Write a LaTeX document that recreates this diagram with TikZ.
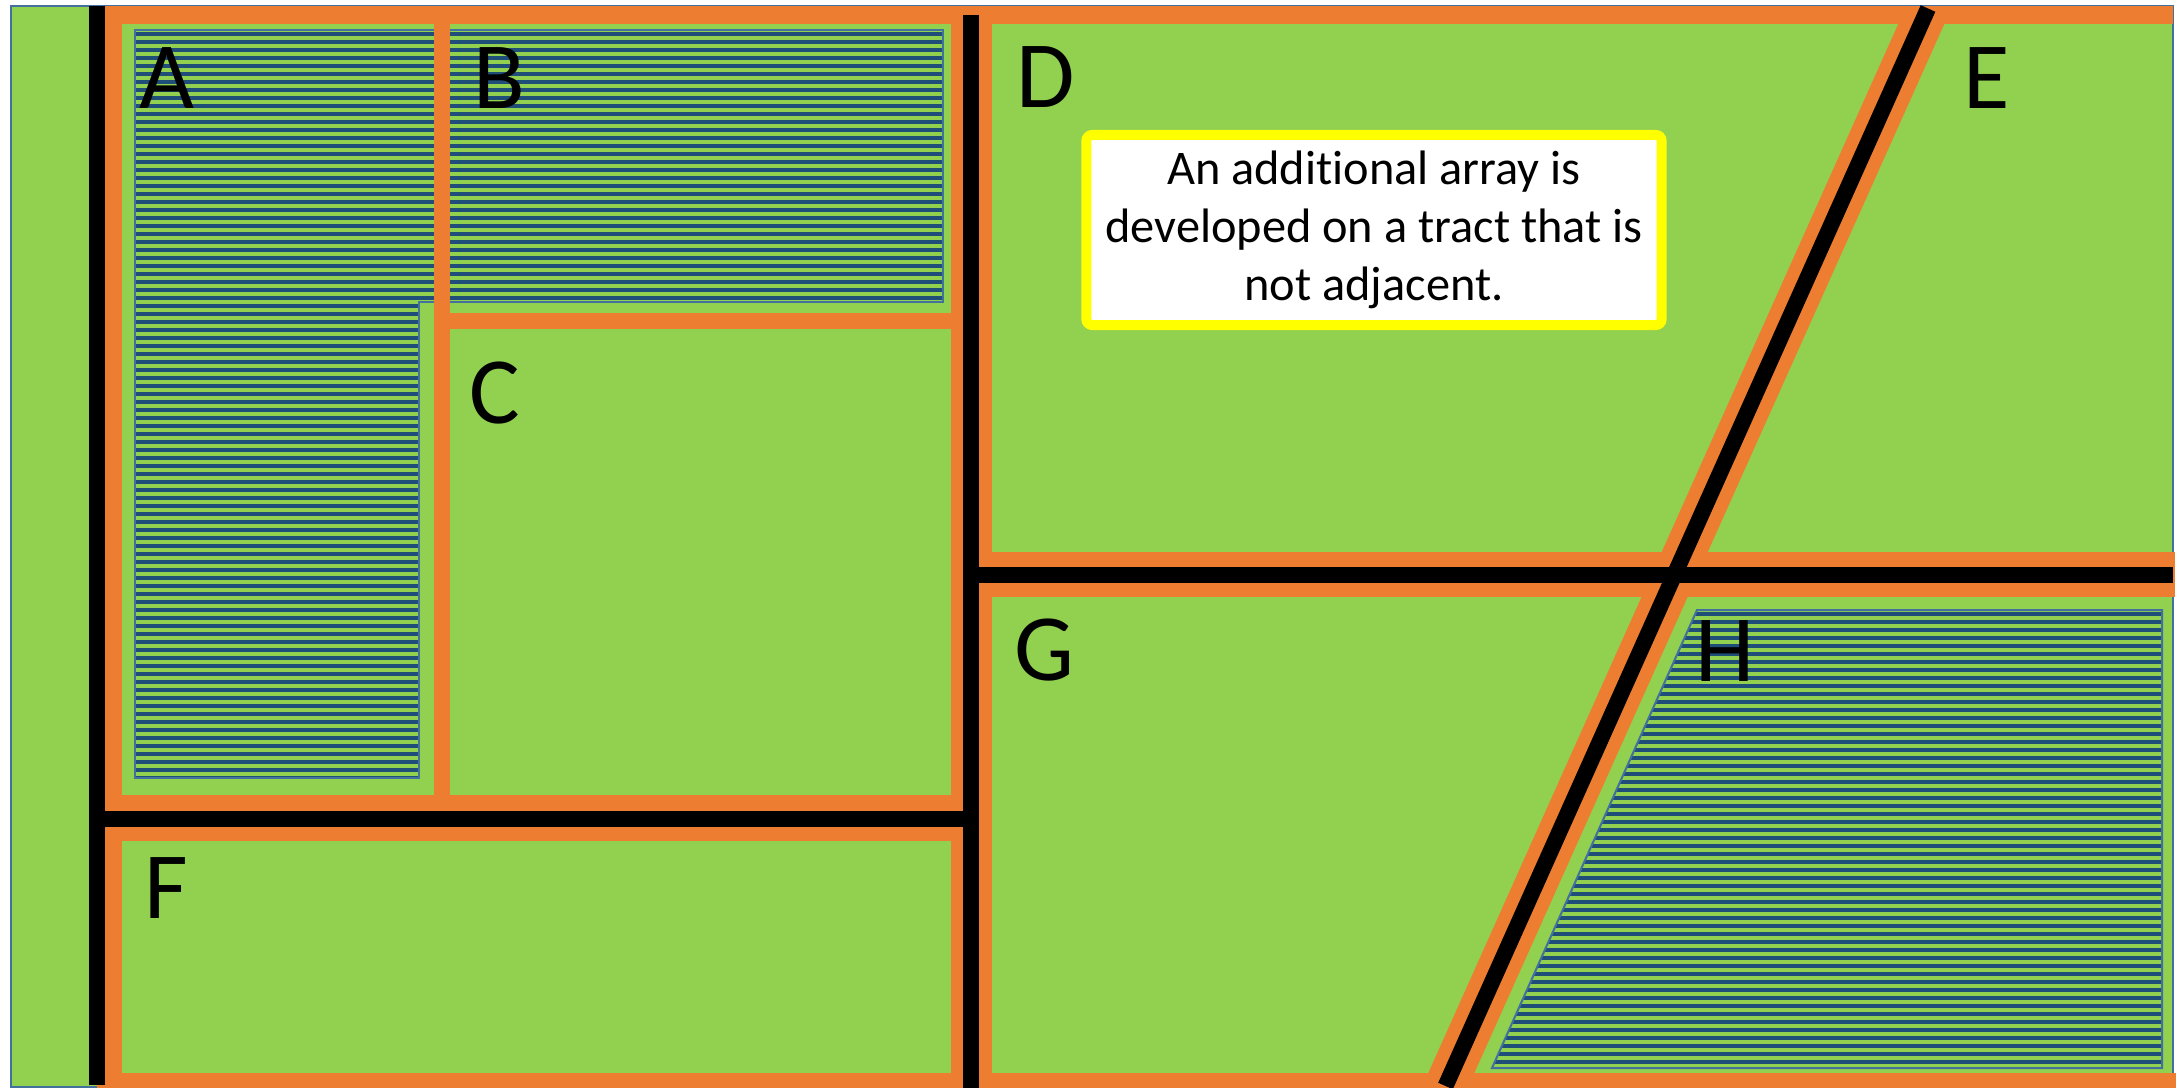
\documentclass[tikz,border=0pt]{standalone}
\usepackage{fontspec}
\setmainfont{Carlito}[Ligatures=NoCommon]
\usepackage{tikz}
\usetikzlibrary{positioning}
\definecolor{plotgreen}{RGB}{146, 208, 80}
\definecolor{shoulder}{RGB}{237, 125, 49}
\definecolor{arrayblue}{RGB}{31, 78, 121}
\definecolor{edgeblue}{RGB}{65, 113, 156}
\definecolor{noteyellow}{RGB}{255, 255, 0}

\begin{document}
\begin{tikzpicture}[x=0.01cm, y=-0.01cm, every node/.style={align=center},
    band/.style={shoulder, line width=#1},
    road/.style={black, line width=0.16cm},
    stripe/.style={arrayblue, line width=0.036cm},
    arrayedge/.style={edgeblue, line width=0.02cm},
    tract/.style={anchor=base west, inner sep=0pt, font=\fontsize{27}{32}\selectfont},
    note/.style={draw=noteyellow, line width=0.1cm, fill=white, rounded corners=0.06cm, minimum width=5.75cm, minimum height=1.9cm, inner sep=0pt, font=\fontsize{13.75}{16.5}\selectfont}]
        \useasboundingbox (0,0) rectangle (2178,1088);
        \fill[white] (0,0) rectangle (2178,1088);
        \draw[edgeblue, line width=0.015cm, fill=plotgreen] (11,6) rectangle (2173,1087);

        % solar arrays (hatched)
        \begin{scope}
            \clip (135,30) -- (943,30) -- (943,302) -- (419,302) -- (419,778) -- (135,778) -- cycle;
            \foreach \y in {34,42,...,778} \draw[stripe] (135,\y) -- (943,\y);
        \end{scope}
        \draw[arrayedge] (135,30) -- (943,30) -- (943,302) -- (419,302) -- (419,778) -- (135,778) -- cycle;
        \begin{scope}
            \clip (1697,610) -- (2162,610) -- (2162,1068) -- (1492,1068) -- cycle;
            \foreach \y in {614,622,...,1068} \draw[stripe] (1480,\y) -- (2162,\y);
        \end{scope}
        \draw[arrayedge] (1697,610) -- (2162,610) -- (2162,1068) -- (1492,1068) -- cycle;

        % tract borders
        \draw[band=0.18cm] (97,15) -- (2173,15);
        \draw[band=0.15cm] (97,1080.5) -- (2176,1080.5);
        \draw[band=0.17cm] (113.5,6) -- (113.5,1088);
        \draw[band=0.41cm] (971.5,6) -- (971.5,1088);
        \draw[band=0.46cm] (97,818) -- (971,818);
        \draw[band=0.45cm] (971,574.5) -- (2175,574.5);
        \draw[band=0.42cm] (1925.3,15) -- (1444.6,1088);
        \draw[band=0.16cm] (442,15) -- (442,818);
        \draw[band=0.16cm] (442,321) -- (971,321);

        % roads
        \draw[road] (97,6) -- (97,1085);
        \draw[road] (971,15) -- (971,1088);
        \draw[road] (97,819) -- (971,819);
        \draw[road] (971,575) -- (2173,575);
        \draw[road] (1928,8.5) -- (1445.5,1086);

        % tract letters
        \node[tract] (lblA) at (139,109) {A};
        \node[tract] (lblB) at (473,109) {B};
        \node[tract] (lblC) at (469,423) {C};
        \node[tract] (lblD) at (1016,108) {D};
        \node[tract] (lblE) at (1963,109) {E};
        \node[tract] (lblF) at (144,918) {F};
        \node[tract] (lblG) at (1014,680) {G};
        \node[tract] (lblH) at (1695,681) {H};

        \node[note] (note) at (1374,230) {An additional array is\\developed on a tract that is\\not adjacent.};
      \end{tikzpicture}
\end{document}
